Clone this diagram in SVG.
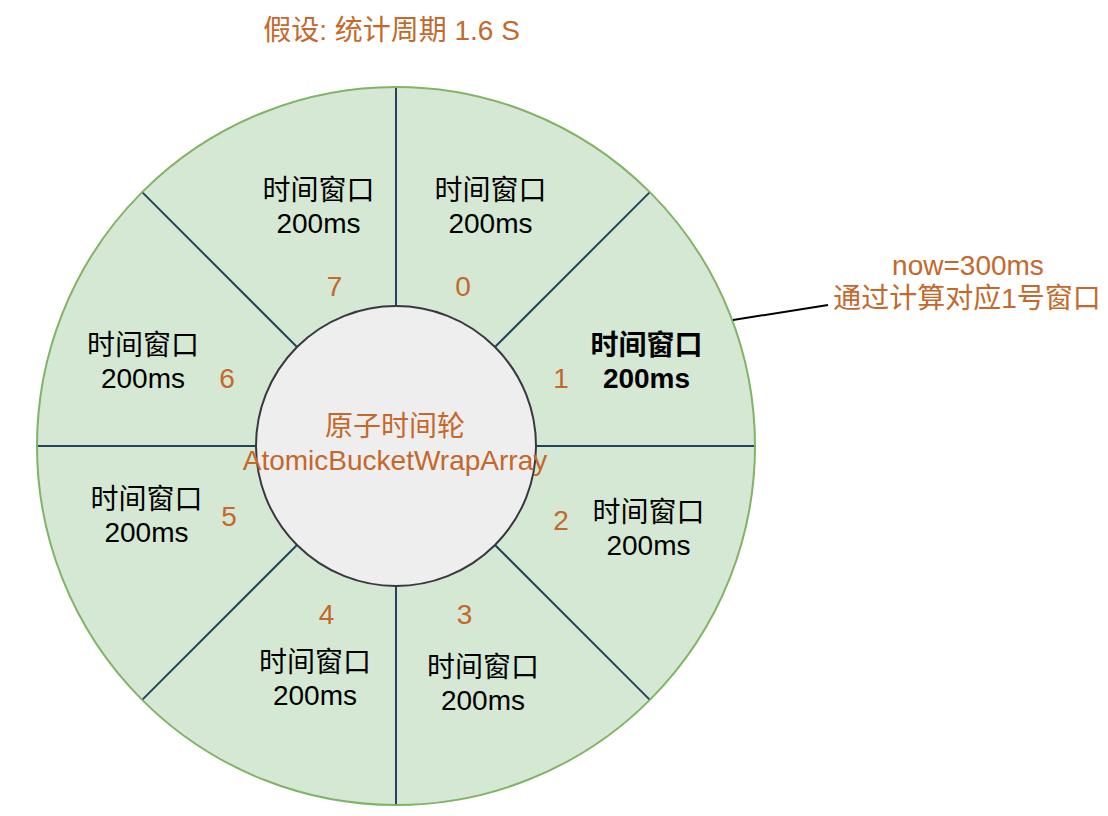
<svg xmlns="http://www.w3.org/2000/svg" width="1108" height="816" viewBox="0 0 1108 816">
<style>
.sector{fill:#d5e8d4;stroke:none}
.div{stroke:#23445d;stroke-width:2;fill:none}
.t{font-family:"Liberation Sans","Noto Sans CJK SC",sans-serif;font-size:28px;text-anchor:middle;fill:#000}
.o{font-family:"Liberation Sans","Noto Sans CJK SC",sans-serif;font-size:28px;text-anchor:middle;fill:#c4682b}
.b{font-weight:bold}
</style>
<rect width="1108" height="816" fill="#fff"/>
<text id="title" class="o" x="391.5" y="40">假设: 统计周期 1.6 S</text>
<g id="win0">
<path class="sector" d="M396,306 L396,87 A359,359 0 0 1 649.85,192.15 L494.99,347.01 A140,140 0 0 0 396,306 Z"/>
<text class="t" x="490.5" y="199.5">时间窗口</text><text class="t" x="490.5" y="233">200ms</text>
<text class="o" x="463" y="296">0</text>
</g>
<g id="win1">
<path class="sector" d="M494.99,347.01 L649.85,192.15 A359,359 0 0 1 755,446 L536,446 A140,140 0 0 0 494.99,347.01 Z"/>
<text class="t b" x="646.5" y="354.5">时间窗口</text><text class="t b" x="646.5" y="388">200ms</text>
<text class="o" x="561" y="388">1</text>
</g>
<g id="win2">
<path class="sector" d="M536,446 L755,446 A359,359 0 0 1 649.85,699.85 L494.99,544.99 A140,140 0 0 0 536,446 Z"/>
<text class="t" x="648.5" y="521.5">时间窗口</text><text class="t" x="648.5" y="555">200ms</text>
<text class="o" x="561" y="530">2</text>
</g>
<g id="win3">
<path class="sector" d="M494.99,544.99 L649.85,699.85 A359,359 0 0 1 396,805 L396,586 A140,140 0 0 0 494.99,544.99 Z"/>
<text class="t" x="483" y="676.5">时间窗口</text><text class="t" x="483" y="710">200ms</text>
<text class="o" x="464.5" y="624">3</text>
</g>
<g id="win4">
<path class="sector" d="M396,586 L396,805 A359,359 0 0 1 142.15,699.85 L297.01,544.99 A140,140 0 0 0 396,586 Z"/>
<text class="t" x="315" y="671.5">时间窗口</text><text class="t" x="315" y="705">200ms</text>
<text class="o" x="326.5" y="624">4</text>
</g>
<g id="win5">
<path class="sector" d="M297.01,544.99 L142.15,699.85 A359,359 0 0 1 37,446 L256,446 A140,140 0 0 0 297.01,544.99 Z"/>
<text class="t" x="146.5" y="508.5">时间窗口</text><text class="t" x="146.5" y="542">200ms</text>
<text class="o" x="229" y="526">5</text>
</g>
<g id="win6">
<path class="sector" d="M256,446 L37,446 A359,359 0 0 1 142.15,192.15 L297.01,347.01 A140,140 0 0 0 256,446 Z"/>
<text class="t" x="143" y="354.5">时间窗口</text><text class="t" x="143" y="388">200ms</text>
<text class="o" x="227" y="388">6</text>
</g>
<g id="win7">
<path class="sector" d="M297.01,347.01 L142.15,192.15 A359,359 0 0 1 396,87 L396,306 A140,140 0 0 0 297.01,347.01 Z"/>
<text class="t" x="318.5" y="199.5">时间窗口</text><text class="t" x="318.5" y="233">200ms</text>
<text class="o" x="334.5" y="296">7</text>
</g>
<g id="dividers">
<line class="div" x1="396" y1="87" x2="396" y2="306"/>
<line class="div" x1="649.85" y1="192.15" x2="494.99" y2="347.01"/>
<line class="div" x1="755" y1="446" x2="536" y2="446"/>
<line class="div" x1="649.85" y1="699.85" x2="494.99" y2="544.99"/>
<line class="div" x1="396" y1="805" x2="396" y2="586"/>
<line class="div" x1="142.15" y1="699.85" x2="297.01" y2="544.99"/>
<line class="div" x1="37" y1="446" x2="256" y2="446"/>
<line class="div" x1="142.15" y1="192.15" x2="297.01" y2="347.01"/>
</g>
<circle id="outer-ring" cx="396" cy="446" r="359" fill="none" stroke="#82b366" stroke-width="2"/>
<g id="hub">
<circle cx="396" cy="446" r="140" fill="#eeeeee" stroke="#36393d" stroke-width="2"/>
<text class="o" x="395" y="436">原子时间轮</text>
<text class="o" x="395" y="470">AtomicBucketWrapArray</text>
</g>
<g id="connectors">
<line x1="733" y1="320" x2="828" y2="305" stroke="#000" stroke-width="2"/>
</g>
<g id="note">
<text class="o" x="968" y="275">now=300ms</text>
<text class="o" x="967" y="308">通过计算对应1号窗口</text>
</g>
</svg>
